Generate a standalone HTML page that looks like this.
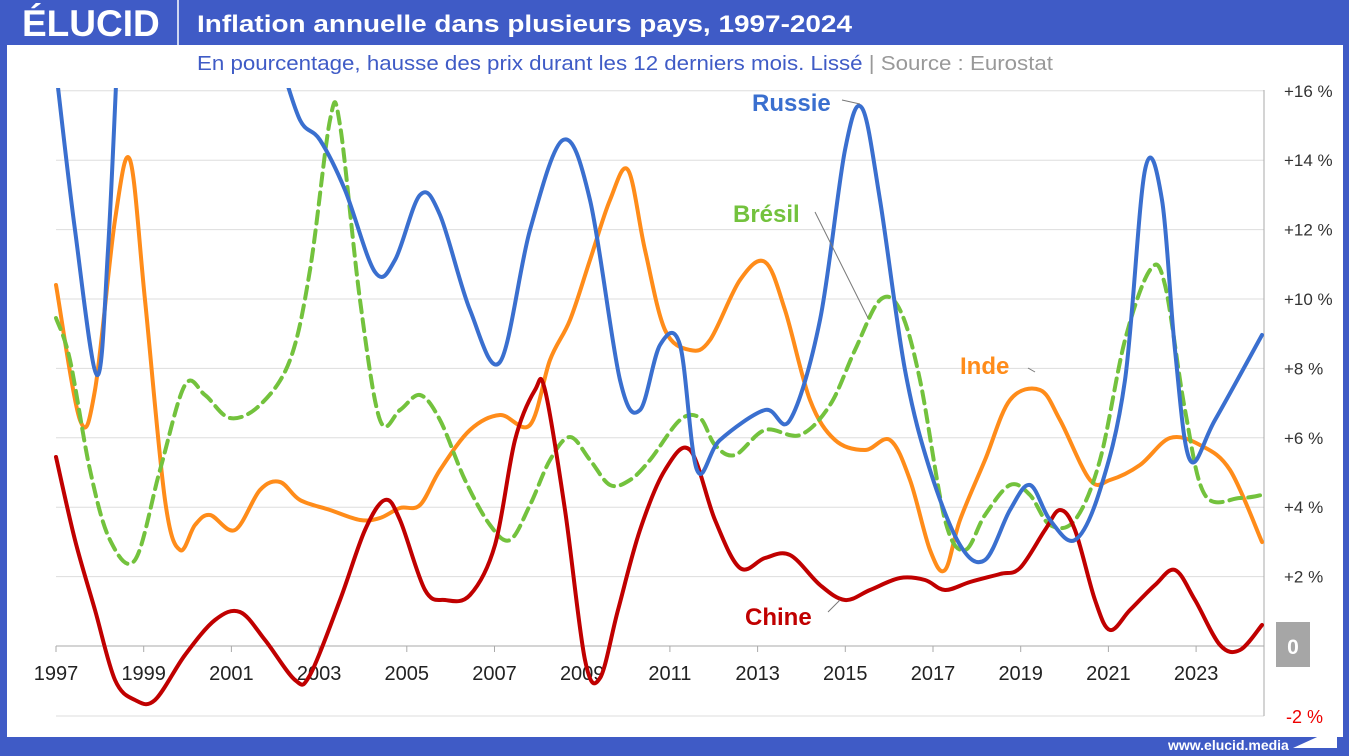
<!DOCTYPE html>
<html><head><meta charset="utf-8"><style>
body{margin:0;width:1349px;height:756px;overflow:hidden;background:#3f5bc6;font-family:"Liberation Sans",sans-serif}
</style></head><body>
<svg id="s" width="1349" height="756" xmlns="http://www.w3.org/2000/svg" style="position:absolute;left:0;top:0">
<rect x="0" y="0" width="1349" height="756" fill="#3f5bc6"/>
<rect x="7" y="45" width="1336" height="692" fill="#fff"/>
<text x="22" y="36" font-size="37" font-weight="bold" fill="#fff" font-family="Liberation Sans,sans-serif">ÉLUCID</text>
<line x1="178" y1="0" x2="178" y2="45" stroke="#fff" stroke-width="1.5"/>
<text x="197" y="32" font-size="24" font-weight="bold" fill="#fff" textLength="655" lengthAdjust="spacingAndGlyphs">Inflation annuelle dans plusieurs pays, 1997-2024</text>
<text x="197" y="70" font-size="20" fill="#3f5bc6" textLength="856" lengthAdjust="spacingAndGlyphs">En pourcentage, hausse des prix durant les 12 derniers mois. Lissé <tspan fill="#999"> |  Source : Eurostat</tspan></text>
<g id="grid" stroke="#ddd" stroke-width="1"></g>
<line x1="1264" y1="90" x2="1264" y2="716" stroke="#aaa"/>
<line x1="56" y1="646" x2="1264" y2="646" stroke="#aaa"/>
<g id="labels" font-size="17" fill="#333"></g>
<g id="years" font-size="20" fill="#222" text-anchor="middle"></g>
<rect x="1276" y="622" width="34" height="45" fill="#a6a6a6"/>
<text x="1293" y="654" font-size="21" font-weight="bold" fill="#fff" text-anchor="middle">0</text>
<text x="1286" y="723" font-size="18" fill="#e00">-2 %</text>
<clipPath id="c"><rect x="50" y="88" width="1214" height="640"/></clipPath>
<g id="lines" clip-path="url(#c)" fill="none" stroke-linecap="round" stroke-linejoin="round"></g>
<g stroke="#777" stroke-width="1" fill="none">
<path d="M842 100 L860 104"/><path d="M815 212 L868 318"/><path d="M1028 368 L1035 372"/><path d="M828 612 L840 600"/>
</g>
<text x="752" y="111" font-size="24" font-weight="bold" fill="#3a6fcf">Russie</text>
<text x="733" y="222" font-size="24" font-weight="bold" fill="#73c23d">Brésil</text>
<text x="960" y="374" font-size="24" font-weight="bold" fill="#ff8c1a">Inde</text>
<text x="745" y="625" font-size="24" font-weight="bold" fill="#c00000">Chine</text>
<text x="1168" y="750" font-size="14" font-weight="bold" fill="#fff">www.elucid.media</text>
<path d="M1293 748 L1337 728 L1337 748 Z" fill="#fff"/>
</svg>
<script>
const NS="http://www.w3.org/2000/svg";
const g=document.getElementById('grid'),lb=document.getElementById('labels'),yr=document.getElementById('years');
for(let v=16;v>=2;v-=2){const y=646-34.7*v;const l=document.createElementNS(NS,'line');l.setAttribute('x1',56);l.setAttribute('x2',1264);l.setAttribute('y1',y);l.setAttribute('y2',y);g.appendChild(l);
const t=document.createElementNS(NS,'text');t.setAttribute('x',1284);t.setAttribute('y',y+6);t.textContent='+'+v+' %';lb.appendChild(t);}
const l2=document.createElementNS(NS,'line');l2.setAttribute('x1',56);l2.setAttribute('x2',1264);l2.setAttribute('y1',716);l2.setAttribute('y2',716);g.appendChild(l2);
for(let i=0;i<14;i++){const x=56+87.7*i;const t=document.createElementNS(NS,'text');t.setAttribute('x',x);t.setAttribute('y',680);t.textContent=1997+2*i;yr.appendChild(t);
const k=document.createElementNS(NS,'line');k.setAttribute('x1',x);k.setAttribute('x2',x);k.setAttribute('y1',646);k.setAttribute('y2',652);k.setAttribute('stroke','#aaa');g.appendChild(k);}
function cr(p){let d='M'+p[0][0]+' '+p[0][1];for(let i=0;i<p.length-1;i++){const a=p[i-1]||p[i],b=p[i],c=p[i+1],e=p[i+2]||c;
d+=` C${b[0]+(c[0]-a[0])/6} ${b[1]+(c[1]-a[1])/6} ${c[0]-(e[0]-b[0])/6} ${c[1]-(e[1]-b[1])/6} ${c[0]} ${c[1]}`;}return d;}
function add(p,col,dash){const e=document.createElementNS(NS,'path');e.setAttribute('d',cr(p));e.setAttribute('stroke',col);e.setAttribute('stroke-width',4);if(dash)e.setAttribute('stroke-dasharray','12 7');document.getElementById('lines').appendChild(e);}
add([[56,285],[80,420],[95,390],[115,220],[130,160],[145,300],[165,500],[180,550],[195,525],[210,515],[235,530],[260,490],[280,482],[300,500],[330,510],[360,520],[380,518],[400,508],[420,505],[440,470],[470,430],[500,415],[530,425],[550,360],[570,320],[590,260],[610,200],[628,170],[645,250],[665,330],[690,350],[710,340],[740,280],[765,262],[785,310],[810,400],[835,440],[865,450],[890,440],[910,480],[930,550],[945,570],[960,520],[985,460],[1010,400],[1040,390],[1060,420],[1090,480],[1110,480],[1140,465],[1170,438],[1200,445],[1230,470],[1262,542]],'#ff8c1a');
add([[56,318],[70,360],[90,470],[110,540],[135,560],[160,470],[185,385],[205,395],[230,418],[260,405],[290,360],[310,270],[330,120],[340,125],[360,300],[380,420],[400,410],[420,395],[440,420],[465,480],[490,525],[510,540],[530,505],[550,460],[570,437],[590,460],[610,485],[630,480],[650,460],[680,420],[700,418],[715,445],[735,455],[765,430],[800,435],[830,405],[855,350],[880,300],[900,310],[920,380],[945,520],[965,550],[985,515],[1010,485],[1030,495],[1050,525],[1075,520],[1100,460],[1125,340],[1150,270],[1165,285],[1185,410],[1205,495],[1240,498],[1262,495]],'#73c23d',true);
add([[56,457],[75,540],[95,610],[115,680],[135,700],[155,700],[185,655],[215,620],[240,612],[265,640],[295,680],[310,675],[340,600],[365,530],[385,500],[400,520],[425,590],[445,600],[470,595],[495,545],[515,440],[535,390],[545,390],[565,510],[585,660],[600,678],[618,610],[640,530],[665,470],[690,450],[715,520],[740,568],[765,558],[790,555],[820,585],[845,600],[870,590],[900,578],[925,580],[945,590],[970,582],[1000,574],[1020,568],[1045,530],[1060,510],[1075,530],[1095,600],[1110,630],[1130,610],[1155,585],[1175,570],[1195,600],[1220,645],[1240,650],[1262,625]],'#c00000');
add([[56,70],[75,230],[97,375],[108,250],[118,40]],'#3a6fcf');
add([[280,60],[300,120],[320,140],[345,190],[375,272],[395,260],[420,195],[440,215],[470,310],[500,362],[530,230],[563,140],[590,200],[620,380],[640,410],[660,345],[680,345],[697,470],[720,440],[765,410],[790,420],[820,320],[845,150],[862,108],[880,200],[905,370],[930,470],[960,545],[985,560],[1010,510],[1030,485],[1050,520],[1075,540],[1100,490],[1125,380],[1145,170],[1162,200],[1175,350],[1190,460],[1215,420],[1262,335]],'#3a6fcf');
</script>
</body></html>
